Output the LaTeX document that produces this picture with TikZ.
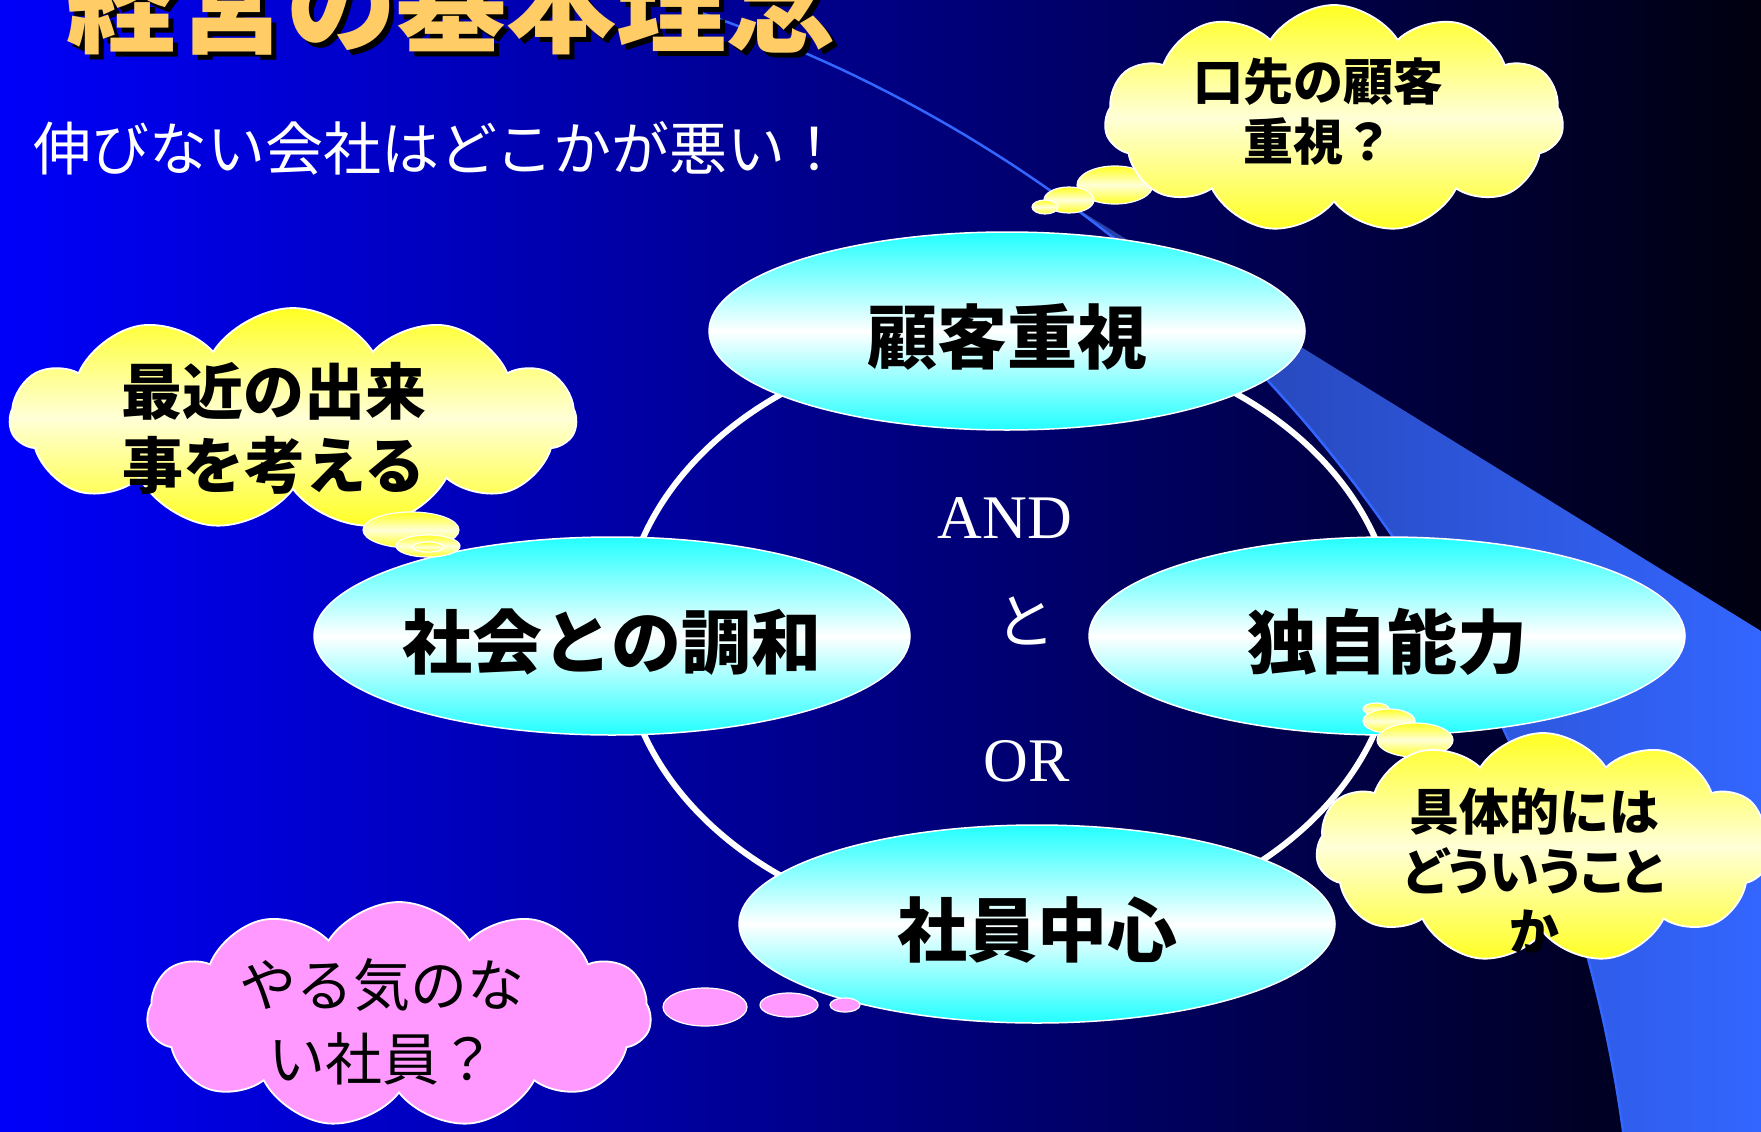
\documentclass[tikz,border=0pt]{standalone}
\usepackage{fontspec}
\setmainfont{Liberation Serif}
\newfontfamily\jp{Noto Sans CJK JP}
\usetikzlibrary{shapes.symbols,shapes.geometric}
\definecolor{bgL}{RGB}{0,0,250}
\definecolor{bgM}{RGB}{0,0,130}
\definecolor{bgR}{RGB}{0,0,15}
\definecolor{bandL}{RGB}{36,62,165}
\definecolor{bandR}{RGB}{51,102,255}
\definecolor{swline}{RGB}{51,102,255}
\definecolor{cyanc}{RGB}{34,255,255}
\definecolor{yel}{RGB}{255,255,34}
\definecolor{paleyel}{RGB}{255,255,215}
\definecolor{pinkc}{RGB}{255,153,255}
\definecolor{titlec}{RGB}{255,204,102}
\newcommand{\fsz}[2]{\fontsize{#1}{#2}\selectfont}
\begin{document}
\begin{tikzpicture}[x=1pt,y=-1pt,
  oval/.style={ellipse, draw=white, line width=1.5pt, top color=cyanc, bottom color=cyanc, middle color=white, minimum width=596pt, minimum height=198pt, inner sep=0pt},
  otext/.style={font=\jp\bfseries\fsz{70}{80}, text=black, inner sep=0pt},
  cloudy/.style={cloud, cloud puffs=11, cloud puff arc=115, cloud ignores aspect, draw=white, line width=1.8pt, inner sep=0pt},
  ycloud/.style={cloudy, top color=yel, bottom color=yel, middle color=paleyel},
  pcloud/.style={cloudy, fill=pinkc},
  bub/.style={ellipse, draw=white, line width=1.2pt, top color=yel, bottom color=yel, middle color=paleyel, inner sep=0pt},
  pbub/.style={ellipse, draw=white, line width=1.2pt, fill=pinkc, inner sep=0pt},
  ctext/.style={align=center, text=black, inner sep=0pt},
  wtext/.style={text=white, inner sep=0pt}
]
\useasboundingbox (0,0) rectangle (1761,1132);
% background
\fill[left color=bgL, right color=bgR, middle color=bgM] (0,0) rectangle (1761,1132);
% swoosh band
\fill[left color=bandL, right color=bandR] plot[domain=-54:-7.8,samples=60] ({256+1380*cos(\x)},{1319+1380*sin(\x)}) -- (1761,1132) -- (1761,631) -- cycle;
\draw[swline, line width=2.5pt] plot[domain=-73:-7.8,samples=90] ({256+1380*cos(\x)},{1319+1380*sin(\x)});
% ring
\node[ellipse, draw=white, line width=6pt, minimum width=774pt, minimum height=596pt, inner sep=0pt] (ring) at (1009,635) {};
% ovals
\node[oval] (kokyaku) at (1007,331) {};
\node[oval] (shakai) at (612,636) {};
\node[oval] (dokuji) at (1387,636) {};
\node[oval] (shain) at (1037,924) {};
\node[otext] (kokyakuT) at ([yshift=-6pt]kokyaku.center) {顧客重視};
\node[otext] (shakaiT) at ([yshift=-6pt]shakai.center) {社会との調和};
\node[otext] (dokujiT) at ([yshift=-6pt]dokuji.center) {独自能力};
\node[otext] (shainT) at ([yshift=-6pt]shain.center) {社員中心};
% center words
\node[wtext, font=\fsz{62}{70}] (andT) at (1005,518) {AND};
\node[wtext, font=\jp\fsz{60}{70}] (toT) at (1025,621) {と};
\node[wtext, font=\fsz{62}{70}] (orT) at (1027,761) {OR};
% title
\node[anchor=south west, inner sep=0pt, text=black, font=\jp\bfseries\fsz{110}{120}] (titleS) at (71,60) {経営の基本理念};
\node[anchor=south west, inner sep=0pt, text=titlec, font=\jp\bfseries\fsz{110}{120}] (title) at (66,55) {経営の基本理念};
\node[anchor=west, wtext, font=\jp\fsz{58}{60}] (sub) at (33,148) {伸びない会社はどこかが悪い！};
% cloud top right
\node[bub, minimum width=76pt, minimum height=38pt] (b1a) at (1115,185) {};
\node[bub, minimum width=50pt, minimum height=26pt] (b1b) at (1069,200) {};
\node[bub, minimum width=26pt, minimum height=14pt] (b1c) at (1045,207) {};
\node[ycloud, minimum width=459pt, minimum height=228pt] (c1) at (1334,119) {};
\node[ctext, font=\jp\bfseries\fsz{50}{60}] (c1T) at (1318,112) {口先の顧客\\重視？};
% cloud left
\node[ycloud, minimum width=566pt, minimum height=222pt] (c2) at (293,419) {};
\node[bub, minimum width=96pt, minimum height=36pt] (b2a) at (411,530) {};
\node[bub, minimum width=64pt, minimum height=22pt] (b2b) at (428,546) {};
\node[bub, minimum width=32pt, minimum height=10pt] (b2c) at (428,547) {};
\node[ctext, font=\jp\bfseries\fsz{61}{74}] (c2T) at (274,428) {最近の出来\\事を考える};
% cloud right
\node[bub, minimum width=26pt, minimum height=12pt] (b3c) at (1376,709) {};
\node[bub, minimum width=52pt, minimum height=24pt] (b3b) at (1389,721) {};
\node[bub, minimum width=76pt, minimum height=34pt] (b3a) at (1415,740) {};
\node[ycloud, minimum width=454pt, minimum height=230pt] (c3) at (1543,848) {};
\node[ctext, font=\jp\bfseries\fsz{50}{60}] (c3T) at (1534,870) {具体的には\\{\addfontfeature{RawFeature=+palt}どういうこと}\\か};
% pink cloud
\node[pbub, minimum width=84pt, minimum height=38pt] (b4a) at (705,1007) {};
\node[pbub, minimum width=58pt, minimum height=24pt] (b4b) at (789,1005) {};
\node[pbub, minimum width=30pt, minimum height=14pt] (b4c) at (845,1005) {};
\node[pcloud, minimum width=504pt, minimum height=226pt] (c4) at (399,1015) {};
\node[ctext, font=\jp\fsz{57}{74}] (c4T) at (382,1022) {やる気のな\\い社員？};
\end{tikzpicture}
\end{document}
